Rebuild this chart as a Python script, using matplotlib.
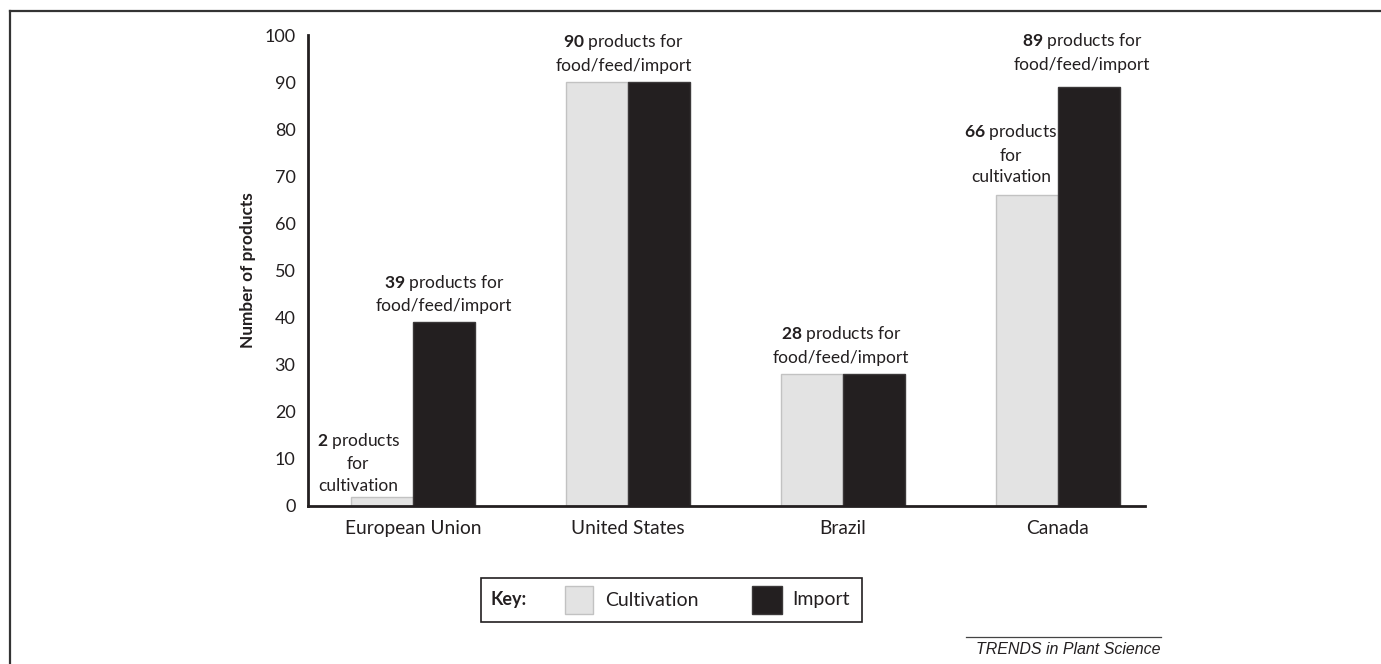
import matplotlib
matplotlib.use("Agg")
import matplotlib.pyplot as plt
from matplotlib.patches import Rectangle
from matplotlib.lines import Line2D
import numpy as np

# Data
regions = ["European Union", "United States", "Brazil", "Canada"]
cultivation = [2, 90, 28, 66]
imports = [39, 90, 28, 89]
y_ticks = [0, 10, 20, 30, 40, 50, 60, 70, 80, 90, 100]

FONT = "Lato"
plt.rcParams["font.family"] = [FONT, "DejaVu Sans"]
plt.rcParams["mathtext.fontset"] = "custom"
plt.rcParams["mathtext.rm"] = FONT
plt.rcParams["mathtext.bf"] = FONT + ":bold"

LIGHT = "#e3e3e3"
LIGHT_EDGE = "#c2c2c2"
DARK = "#231f20"
DARK_EDGE = "#3b3839"
TEXT = "#231f20"

fig = plt.figure(figsize=(13.81, 6.64), dpi=100)
ax = fig.add_axes([308 / 1381, 1 - 506 / 664, (1145 - 308) / 1381, (506 - 35) / 664])

x = np.arange(len(regions))
w = 0.288
ax.bar(x - w / 2, cultivation, w, color=LIGHT, edgecolor=LIGHT_EDGE, linewidth=1.0, zorder=2)
ax.bar(x + w / 2, imports, w, color=DARK, edgecolor=DARK_EDGE, linewidth=1.0, zorder=2)

ax.set_xlim(-0.488, (1145 - 413) / 215)
ax.set_ylim(0, 100)
ax.set_yticks(y_ticks)
ax.set_yticklabels([str(t) for t in y_ticks], fontsize=13, color=TEXT)
ax.set_xticks(x)
ax.set_xticklabels(regions, fontsize=13.8, color=TEXT)
ax.tick_params(axis="both", length=0, pad=9)
ax.tick_params(axis="x", pad=10)
for side in ("top", "right"):
    ax.spines[side].set_visible(False)
for side in ("left", "bottom"):
    ax.spines[side].set_linewidth(2.0)
    ax.spines[side].set_color("#231f20")
ax.set_ylabel("Number of products", fontsize=12.4, fontweight="bold", color=TEXT, labelpad=6)

# Value annotations
fs = 12.5
def note_import(i, value, dx=0.0, dy=8):
    ax.annotate(f"$\\mathbf{{{value}}}$ products for\nfood/feed/import",
                xy=(i + w / 2 + dx, value), xytext=(0, dy), textcoords="offset points",
                ha="center", va="bottom", fontsize=fs, color=TEXT, linespacing=1.42)

def note_cult(i, value, dx=0.0, dy=3):
    ax.annotate(f"$\\mathbf{{{value}}}$ products\nfor\ncultivation",
                xy=(i - w / 2 + dx, value), xytext=(0, dy), textcoords="offset points",
                ha="center", va="bottom", fontsize=fs, color=TEXT, linespacing=1.42)

note_cult(0, cultivation[0], dx=-0.11, dy=2)
note_import(0, imports[0], dx=0.0, dy=6)
note_import(1, imports[1], dx=-w / 2 - 0.02, dy=6)
note_import(2, imports[2], dx=-w / 2 - 0.01, dy=6)
note_cult(3, cultivation[3], dx=-0.075, dy=7)
note_import(3, imports[3], dx=-0.033, dy=10)

# Key box
fig.add_artist(Rectangle((481 / 1381, 1 - 622 / 664), (862 - 481) / 1381, 44 / 664,
                         transform=fig.transFigure, facecolor="white",
                         edgecolor="#231f20", linewidth=1.2))
ky = 1 - 600 / 664
fig.text(490 / 1381, ky, "Key:", fontsize=13, fontweight="bold", color=TEXT, va="center")
fig.add_artist(Rectangle((565 / 1381, 1 - 614 / 664), 28 / 1381, 28 / 664,
                         transform=fig.transFigure, facecolor=LIGHT, edgecolor=LIGHT_EDGE, linewidth=1.0))
fig.text(605 / 1381, ky, "Cultivation", fontsize=14, color=TEXT, va="center")
fig.add_artist(Rectangle((752 / 1381, 1 - 614 / 664), 30 / 1381, 28 / 664,
                         transform=fig.transFigure, facecolor=DARK, edgecolor=DARK_EDGE, linewidth=1.0))
fig.text(792 / 1381, ky, "Import", fontsize=14, color=TEXT, va="center")

# Footer
fig.add_artist(Line2D([966 / 1381, 1161 / 1381], [1 - 637 / 664, 1 - 637 / 664],
                      transform=fig.transFigure, color="#444444", linewidth=0.9))
fig.text(1161 / 1381, 1 - 649 / 664, "TRENDS in Plant Science", fontsize=11.5,
         style="italic", family="Liberation Sans", color="#231f20", ha="right", va="center")

# Outer frame (top and left edges)
fig.add_artist(Line2D([9.5 / 1381, 1.0], [1 - 10.5 / 664, 1 - 10.5 / 664],
                      transform=fig.transFigure, color="#333333", linewidth=1.6))
fig.add_artist(Line2D([9.5 / 1381, 9.5 / 1381], [0.0, 1 - 10.5 / 664],
                      transform=fig.transFigure, color="#333333", linewidth=1.6))

fig.savefig("out.png", dpi=100, facecolor="white")
